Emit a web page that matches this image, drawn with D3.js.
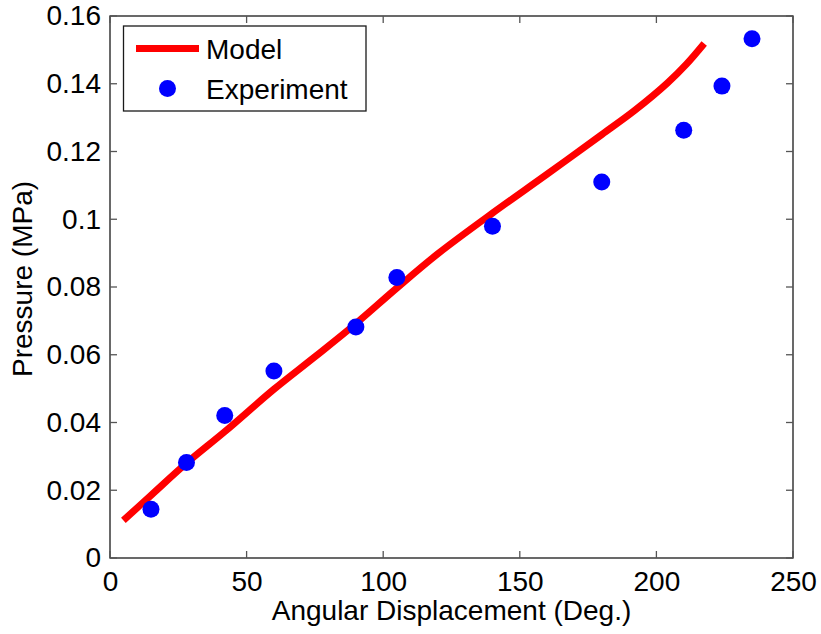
<!DOCTYPE html>
<html>
<head>
<meta charset="utf-8">
<script src="https://cdn.jsdelivr.net/npm/d3@7"></script>
<style>
  html, body { margin: 0; padding: 0; background: #fff; }
  svg text { font-family: Arial, "Liberation Sans", Helvetica, sans-serif; fill: #000; }
</style>
</head>
<body>
<svg id="chart" width="821" height="634"></svg>
<script>
// Model prediction (angle in degrees, pressure in MPa)
const modelAngle    = [4.9, 15, 28, 42, 60, 75, 90, 105, 120, 140, 160, 180, 192, 204, 211, 217.5];
const modelPressure = [0.0111, 0.0185, 0.0280, 0.0373, 0.0498, 0.0594, 0.0692, 0.0797, 0.0898, 0.1018, 0.1133, 0.1250, 0.1321, 0.1402, 0.1458, 0.1519];

// Measured points
const expAngle    = [15, 28, 42, 60, 90, 105, 140, 180, 210, 224, 235];
const expPressure = [0.0144, 0.0282, 0.0421, 0.0552, 0.0682, 0.0828, 0.0979, 0.1110, 0.1263, 0.1393, 0.1533];

// Tick labels
const xTicks = [0, 50, 100, 150, 200, 250];
const yTicks = [0, 0.02, 0.04, 0.06, 0.08, 0.1, 0.12, 0.14, 0.16];
const yTickLabels = ["0", "0.02", "0.04", "0.06", "0.08", "0.1", "0.12", "0.14", "0.16"];

const seriesNames = ["Model", "Experiment"];

const svg = d3.select("#chart");
const plot = { left: 110, right: 793, top: 16, bottom: 558 };

const x = d3.scaleLinear().domain([0, 250]).range([plot.left, plot.right]);
const y = d3.scaleLinear().domain([0, 0.16]).range([plot.bottom, plot.top]);

const fontSize = 28;
const tickLen = 7;

// Plot frame
svg.append("rect")
  .attr("x", plot.left).attr("y", plot.top)
  .attr("width", plot.right - plot.left).attr("height", plot.bottom - plot.top)
  .attr("fill", "#fff").attr("stroke", "#1a1a1a").attr("stroke-width", 1.3);

// Inward ticks on all four sides
const tickColor = "#555";
const gx = svg.append("g");
xTicks.forEach(t => {
  gx.append("line").attr("x1", x(t)).attr("x2", x(t)).attr("y1", plot.bottom).attr("y2", plot.bottom - tickLen)
    .attr("stroke", tickColor).attr("stroke-width", 1.3);
  gx.append("line").attr("x1", x(t)).attr("x2", x(t)).attr("y1", plot.top).attr("y2", plot.top + tickLen)
    .attr("stroke", tickColor).attr("stroke-width", 1.3);
});
const gy = svg.append("g");
yTicks.forEach(t => {
  gy.append("line").attr("x1", plot.left).attr("x2", plot.left + tickLen).attr("y1", y(t)).attr("y2", y(t))
    .attr("stroke", tickColor).attr("stroke-width", 1.3);
  gy.append("line").attr("x1", plot.right).attr("x2", plot.right - tickLen).attr("y1", y(t)).attr("y2", y(t))
    .attr("stroke", tickColor).attr("stroke-width", 1.3);
});

// Tick labels via d3 axes (lines hidden, text kept)
const xAxis = d3.axisBottom(x).tickValues(xTicks).tickSize(0).tickPadding(13);
svg.append("g").attr("transform", `translate(0,${plot.bottom})`).call(xAxis)
  .call(g => g.select(".domain").remove())
  .call(g => g.selectAll("text").attr("font-size", fontSize).style("font-family", "Arial, 'Liberation Sans', sans-serif").attr("fill", "#000"));

const yAxis = d3.axisLeft(y).tickValues(yTicks).tickSize(0).tickPadding(9)
  .tickFormat((d, i) => yTickLabels[i]);
svg.append("g").attr("transform", `translate(${plot.left},0)`).call(yAxis)
  .call(g => g.select(".domain").remove())
  .call(g => g.selectAll("text").attr("font-size", fontSize).style("font-family", "Arial, 'Liberation Sans', sans-serif").attr("fill", "#000"));

// Axis titles
svg.append("text")
  .attr("x", (plot.left + plot.right) / 2).attr("y", 620)
  .attr("text-anchor", "middle").attr("font-size", fontSize)
  .text("Angular Displacement (Deg.)");

svg.append("text")
  .attr("transform", `translate(32,${(plot.top + plot.bottom) / 2 - 8}) rotate(-90)`)
  .attr("text-anchor", "middle").attr("font-size", fontSize)
  .text("Pressure (MPa)");

// Model curve
const modelData = modelAngle.map((a, i) => ({ a, p: modelPressure[i] }));
const line = d3.line().x(d => x(d.a)).y(d => y(d.p)).curve(d3.curveCatmullRom.alpha(0.5));
svg.append("path")
  .datum(modelData)
  .attr("d", line)
  .attr("fill", "none")
  .attr("stroke", "#ff0000")
  .attr("stroke-width", 7)
  .attr("stroke-linecap", "butt")
  .attr("stroke-linejoin", "round");

// Experimental markers
const expData = expAngle.map((a, i) => ({ a, p: expPressure[i] }));
svg.append("g").selectAll("circle")
  .data(expData)
  .join("circle")
  .attr("cx", d => x(d.a))
  .attr("cy", d => y(d.p))
  .attr("r", 8.5)
  .attr("fill", "#0000ff");

// Legend
const legend = svg.append("g");
legend.append("rect")
  .attr("x", 123.5).attr("y", 26).attr("width", 242.5).attr("height", 85)
  .attr("fill", "#fff").attr("stroke", "#1a1a1a").attr("stroke-width", 1.3);
legend.append("line")
  .attr("x1", 136).attr("x2", 199).attr("y1", 48.5).attr("y2", 48.5)
  .attr("stroke", "#ff0000").attr("stroke-width", 7);
legend.append("circle")
  .attr("cx", 167.5).attr("cy", 88.5).attr("r", 8.5).attr("fill", "#0000ff");
legend.append("text")
  .attr("x", 206).attr("y", 59).attr("font-size", fontSize).text(seriesNames[0]);
legend.append("text")
  .attr("x", 206).attr("y", 99).attr("font-size", fontSize).text(seriesNames[1]);
</script>
</body>
</html>
